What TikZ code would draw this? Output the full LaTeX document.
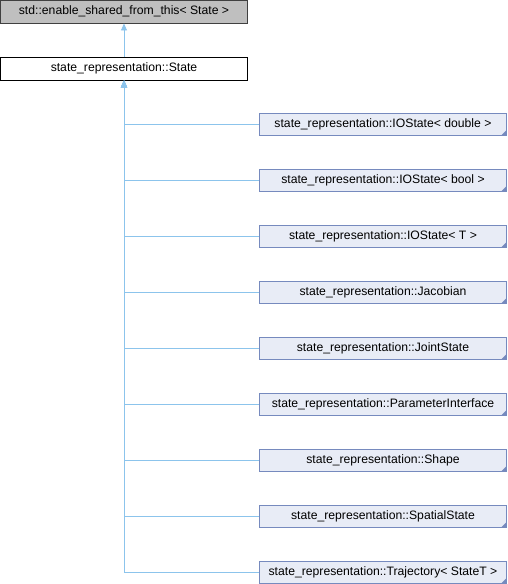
\documentclass[tikz,border=0pt]{standalone}
\usepackage{fontspec}
\setmainfont{Liberation Sans}
\usetikzlibrary{arrows.meta}
\definecolor{edgec}{RGB}{140,196,236}
\definecolor{derfill}{RGB}{232,236,246}
\definecolor{derdraw}{RGB}{118,138,190}
\definecolor{topfill}{RGB}{191,191,191}
\begin{document}
\begin{tikzpicture}[x=1pt,y=-1pt,
  basebox/.style={draw, minimum height=23pt, inner sep=0pt, font=\fontsize{12.2}{14}\selectfont, line width=0.9pt},
  topbox/.style={basebox, fill=topfill, draw=black!75, minimum width=247pt},
  statebox/.style={basebox, fill=white, draw=black, minimum width=247pt},
  derbox/.style={basebox, fill=derfill, draw=derdraw, minimum width=247pt, minimum height=22pt,
    path picture={\fill[derdraw] (path picture bounding box.south east) -- ++(-5pt,0) -- ++(5pt,5pt) -- cycle;}},
  edge/.style={draw=edgec, line width=0.9pt, -{Triangle[width=6pt,length=7pt,fill=edgec]}}
]
\useasboundingbox (0,0) rectangle (508,584);
\node[topbox] (top) at (124,11.5) {std::enable\_shared\_from\_this\textless{} State \textgreater};
\node[statebox] (s) at (124,68.5) {state\_representation::State};
\foreach \i/\t in {0/{state\_representation::IOState\textless{} double \textgreater},
                   1/{state\_representation::IOState\textless{} bool \textgreater},
                   2/{state\_representation::IOState\textless{} T \textgreater},
                   3/{state\_representation::Jacobian},
                   4/{state\_representation::JointState},
                   5/{state\_representation::ParameterInterface},
                   6/{state\_representation::Shape},
                   7/{state\_representation::SpatialState},
                   8/{state\_representation::Trajectory\textless{} StateT \textgreater}}{
  \node[derbox] (d\i) at (383,124+56*\i) {\t};
  \draw[edge] (d\i.west) -| (s.south);
}
\draw[edge] (s.north) -- (top.south);
\end{tikzpicture}
\end{document}
